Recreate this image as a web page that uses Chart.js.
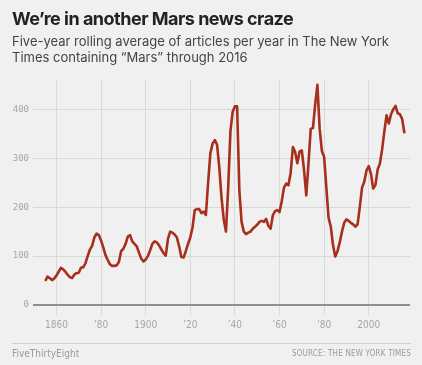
<!DOCTYPE html>
<html><head><meta charset="utf-8">
<script src="https://cdn.jsdelivr.net/npm/chart.js@4"></script>
<style>
html,body{margin:0;padding:0;background:#f0f0f0;}
#wrap{position:relative;width:422px;height:365px;overflow:hidden;background:#f0f0f0;}
canvas{position:absolute;left:0;top:0;}
.t{position:absolute;white-space:nowrap;transform-origin:0 0;}
#title{left:12px;top:8px;font-family:Inter,sans-serif;font-weight:700;font-size:18px;color:#222;letter-spacing:-0.5px;}
#sub1{left:12px;top:33px;font-family:Inter,sans-serif;font-size:13px;color:#444;}
#sub2{left:12px;top:49px;font-family:Inter,sans-serif;font-size:13px;color:#444;}
#rule{position:absolute;left:12px;top:343px;width:399px;height:1px;background:#cfcfcf;}
#brand{left:12px;top:348px;font-family:"Liberation Sans Narrow","DejaVu Sans Condensed",sans-serif;font-size:10px;color:#9a9a9a;}
#source{right:11px;top:349px;font-family:"Liberation Sans Narrow","DejaVu Sans Condensed",sans-serif;font-size:8px;color:#9a9a9a;letter-spacing:0.2px;}
</style>
</head><body>
<div id="wrap">
<canvas id="c" width="422" height="365"></canvas>
<div class="t" id="title">We’re in another Mars news craze</div>
<div class="t" id="sub1">Five-year rolling average of articles per year in The New York</div>
<div class="t" id="sub2">Times containing “Mars” through 2016</div>
<div id="rule"></div>
<div class="t" id="brand">FiveThirtyEight</div>
<div class="t" id="source">SOURCE: THE NEW YORK TIMES</div>
</div>
<script>
const years = [
  1855,1856,1857,1858,1859,1860,1861,1862,1863,1864,
  1865,1866,1867,1868,1869,1870,1871,1872,1873,1874,
  1875,1876,1877,1878,1879,1880,1881,1882,1883,1884,
  1885,1886,1887,1888,1889,1890,1891,1892,1893,1894,
  1895,1896,1897,1898,1899,1900,1901,1902,1903,1904,
  1905,1906,1907,1908,1909,1910,1911,1912,1913,1914,
  1915,1916,1917,1918,1919,1920,1921,1922,1923,1924,
  1925,1926,1927,1928,1929,1930,1931,1932,1933,1934,
  1935,1936,1937,1938,1939,1940,1941,1942,1943,1944,
  1945,1946,1947,1948,1949,1950,1951,1952,1953,1954,
  1955,1956,1957,1958,1959,1960,1961,1962,1963,1964,
  1965,1966,1967,1968,1969,1970,1971,1972,1973,1974,
  1975,1976,1977,1978,1979,1980,1981,1982,1983,1984,
  1985,1986,1987,1988,1989,1990,1991,1992,1993,1994,
  1995,1996,1997,1998,1999,2000,2001,2002,2003,2004,
  2005,2006,2007,2008,2009,2010,2011,2012,2013,2014,
  2015,2016
];
const articles = [
  49,58,55,51,54,60,68,76,73,68,
  62,57,55,62,65,66,76,77,85,100,
  113,121,138,146,143,132,118,102,92,83,
  80,80,81,88,110,115,125,140,143,130,
  125,120,107,95,89,93,100,112,125,130,
  128,122,114,106,101,135,150,148,144,138,
  120,98,97,110,125,138,158,194,196,196,
  188,191,184,250,310,330,337,328,282,220,
  175,150,240,355,395,406,406,235,170,150,
  145,148,150,156,160,164,170,172,170,176,
  162,156,183,192,194,190,212,240,248,245,
  270,323,313,290,314,316,276,224,290,360,
  362,410,450,360,315,303,240,178,160,122,
  99,110,128,150,168,175,172,168,165,160,
  165,200,240,252,275,284,268,238,245,277,
  289,318,355,388,371,390,400,407,392,390,
  380,351
];
const xTicks = [1860,1880,1900,1920,1940,1960,1980,2000];
const xTickLabels = ['1860','’80','1900','’20','’40','’60','’80','2000'];
const yTicks = [0,100,200,300,400];
const yTickLabels = ['0','100','200','300','400'];

const xTickFont = {family:'"Liberation Sans Narrow","DejaVu Sans Condensed",sans-serif', size:10};
const yTickFont = {family:'"DejaVu Sans Mono",monospace', size:9};

new Chart(document.getElementById('c'), {
  type:'line',
  data:{datasets:[{
    data: years.map((y,i)=>({x:y, y:articles[i]})),
    borderColor:'#a62f1d',
    borderWidth:2.6,
    pointRadius:0,
    tension:0,
    fill:false,
    borderJoinStyle:'round'
  }]},
  options:{
    responsive:false,
    animation:false,
    devicePixelRatio:1,
    layout:{padding:{top:80,right:12,bottom:30,left:0}},
    plugins:{legend:{display:false},tooltip:{enabled:false}},
    scales:{
      x:{
        type:'linear',min:1849.5,max:2018.5,
        border:{display:false},
        grid:{color:'#d9d9d9',lineWidth:1,drawTicks:true,tickLength:10,tickColor:'#d9d9d9'},
        afterBuildTicks:s=>{s.ticks = xTicks.map(v=>({value:v}));},
        afterFit:s=>{s.height = 30;},
        ticks:{
          autoSkip:false,maxRotation:0,padding:4,color:'#a6a6a6',font:xTickFont,
          callback:(v)=>{const i = xTicks.indexOf(v); return i>=0 ? xTickLabels[i] : '';}
        }
      },
      y:{
        min:0,max:460,
        border:{display:false},
        grid:{
          drawTicks:false,
          color:(ctx)=> ctx.tick && ctx.tick.value===0 ? '#8f8f8f' : '#d9d9d9',
          lineWidth:(ctx)=> ctx.tick && ctx.tick.value===0 ? 2 : 1
        },
        afterBuildTicks:s=>{s.ticks = yTicks.map(v=>({value:v}));},
        afterFit:s=>{s.width = 33;},
        ticks:{
          padding:4,color:'#a6a6a6',font:yTickFont,
          callback:(v)=>{const i = yTicks.indexOf(v); return i>=0 ? yTickLabels[i] : '';}
        }
      }
    }
  }
});
</script>
</body></html>
